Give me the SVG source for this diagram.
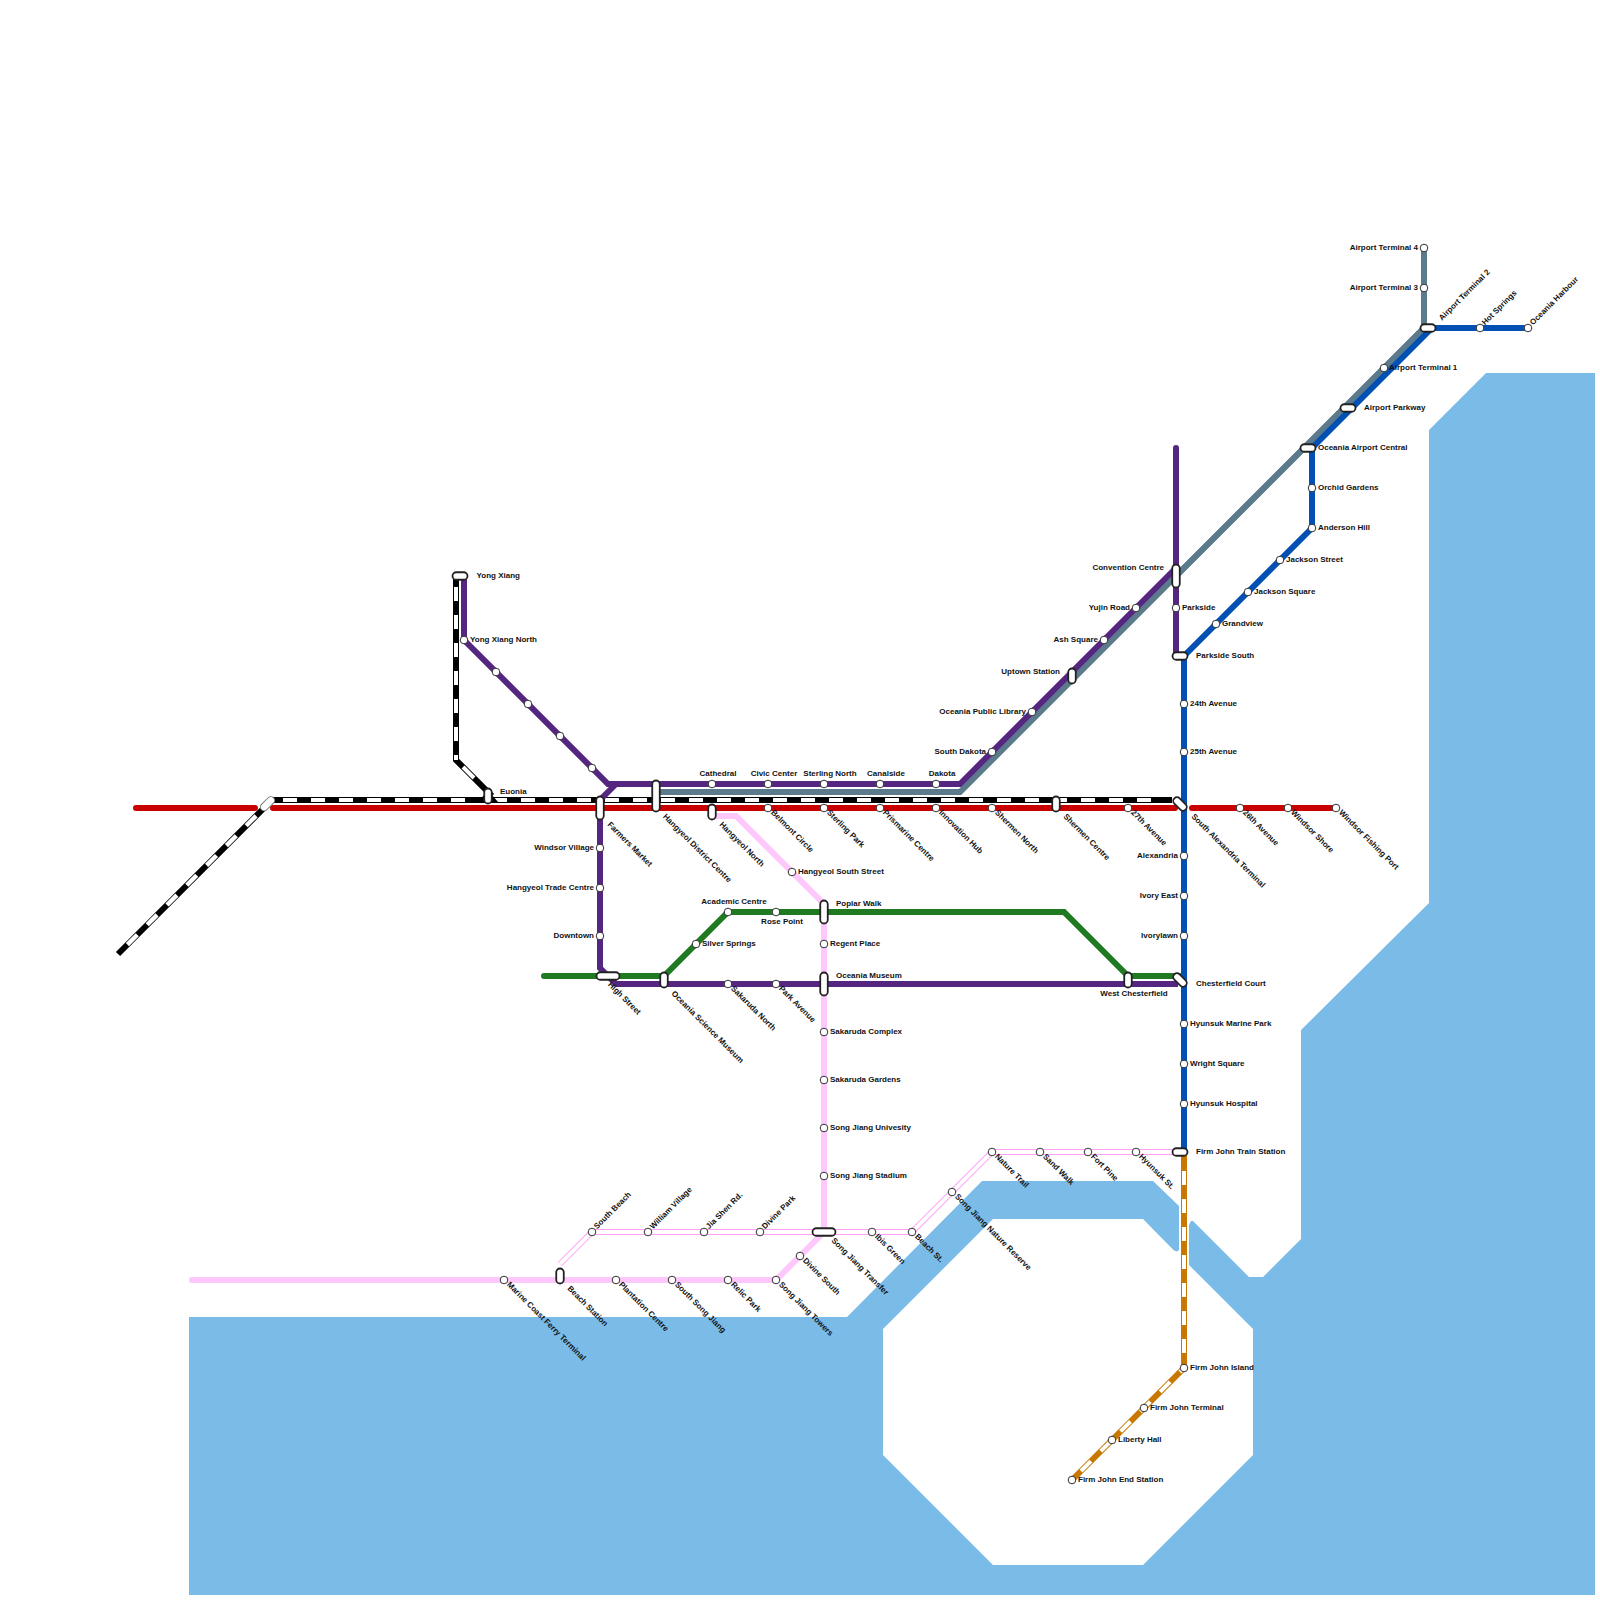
<svg xmlns="http://www.w3.org/2000/svg" width="1600" height="1600" viewBox="0 0 1600 1600">
<style>
text{font-family:"Liberation Sans",Arial,sans-serif;font-size:8px;font-weight:bold;fill:#111}
.e{text-anchor:end}.m{text-anchor:middle}
.st{fill:#fff;stroke:#333;stroke-width:1}
.pl{fill:#fff;stroke:#222;stroke-width:1.800}
.ln{fill:none;stroke-width:6;stroke-linejoin:miter}
.rd{stroke-linecap:round}
.wd{fill:none;stroke:#fff;stroke-width:4;stroke-dasharray:14 14}
.wt{fill:none;stroke:#fff;stroke-width:4}
</style>
<defs>
<circle id="s" class="st" r="3.800"/>
<rect id="v16" class="pl" x="-3.750" y="-7.500" width="7.500" height="15" rx="3.750"/>
<rect id="v24" class="pl" x="-3.750" y="-11.500" width="7.500" height="23" rx="3.750"/>
<rect id="v32" class="pl" x="-3.750" y="-15.500" width="7.500" height="31" rx="3.750"/>
<rect id="h16" class="pl" x="-7.500" y="-3.750" width="15" height="7.500" rx="3.750"/>
<rect id="h24" class="pl" x="-11.500" y="-3.750" width="23" height="7.500" rx="3.750"/>
</defs>
<path id="water" fill="#7abbe8" d="M189,1317H847L982,1181H1153L1179,1206V1250L1177,1251.500L1174,1250.500L1143,1219H993L883,1329V1455L993,1565H1143L1253,1455V1329L1189,1265V1225L1191,1221H1193L1249,1277H1263L1301,1239V1030L1429,903V430L1486,373H1595V1595H189Z"/>
<g id="connectors">
<path class="ln" stroke="#5b7b8c" d="M656,792H960L1424,328V248"/>
<path class="ln rd" stroke="#c80000" d="M136,808H255M273,808H1175M1192,808H1336"/>
<path class="ln" stroke="#000" d="M118,954L272,800H1172"/>
<path class="wd" d="M283,800H479M493,800H1165"/>
<path class="wd" style="stroke-width:4.400" d="M127.400,944.600L262,810"/>
<path class="ln" stroke="#000" d="M456,576V760L492,796"/>
<path class="wd" d="M456,587V760"/>
<path class="wt" d="M463,767L474,778"/>
<path fill="#000" d="M477,803L485,794H491L499,803Z"/>
<path class="ln" stroke="#1f7a22" d="M1180,976H1128L1064,912H728L664,976H544" stroke-linecap="round"/>
<path class="ln" stroke="#ffc8fc" d="M712,816H736L824,904V1232L776,1280H192" stroke-linecap="round"/>
<path class="ln" stroke="#ff9ff8" d="M560,1264L592,1232H912L992,1152H1180"/>
<path class="wt" d="M560,1264L592,1232H912L992,1152H1180"/>
<path class="ln" stroke="#c87800" d="M1184,1152V1368L1072,1480"/>
<path class="wd" d="M1184,1171V1353"/>
<path class="wd" stroke-dashoffset="8.340" d="M1184,1368L1072,1480"/>
<path class="ln" stroke="#5b7b8c" d="M1176,576L1424,328"/>
<path class="ln" stroke="#0350b4" d="M1528,328H1432L1312,448V528L1184,656V1152"/>
<path class="ln rd" stroke="#55267f" d="M1176,448V656"/>
<path class="ln" stroke="#55267f" d="M464,576V640L608,784H960L1176,568"/>
<path class="ln" stroke="#55267f" d="M616,784L600,800V968L616,984H1178"/>
</g>
<g id="n-junction"><rect x="259" y="800" width="17" height="7.500" rx="3.750" transform="rotate(-45 267.500 803.750)" fill="#fff" stroke="#777" stroke-width="1"/></g>
<g id="yong-xiang"><use href="#h16" x="460" y="576"/><text x="476.500" y="578">Yong Xiang</text></g>
<g id="yong-xiang-north"><use href="#s" x="464" y="640"/><text x="470" y="642">Yong Xiang North</text></g>
<g id="p1"><use href="#s" x="496" y="672"/></g>
<g id="p2"><use href="#s" x="528" y="704"/></g>
<g id="p3"><use href="#s" x="560" y="736"/></g>
<g id="p4"><use href="#s" x="592" y="768"/></g>
<g id="euonia"><use href="#v16" x="488" y="796"/><text x="500" y="794">Euonia</text></g>
<g id="farmers-market"><use href="#v24" x="600" y="808"/><text transform="translate(607 825) rotate(45)">Farmers Market</text></g>
<g id="hangyeol-district-centre"><use href="#v32" x="656" y="796"/><text transform="translate(662.500 817) rotate(45)">Hangyeol District Centre</text></g>
<g id="hangyeol-north"><use href="#v16" x="712" y="812"/><text transform="translate(719 825) rotate(45)">Hangyeol North</text></g>
<g id="cathedral"><use href="#s" x="712" y="784"/><text class="m" x="718" y="776">Cathedral</text></g>
<g id="civic-center"><use href="#s" x="768" y="784"/><text class="m" x="774" y="776">Civic Center</text></g>
<g id="sterling-north"><use href="#s" x="824" y="784"/><text class="m" x="830" y="776">Sterling North</text></g>
<g id="canalside"><use href="#s" x="880" y="784"/><text class="m" x="886" y="776">Canalside</text></g>
<g id="dakota"><use href="#s" x="936" y="784"/><text class="m" x="942" y="776">Dakota</text></g>
<g id="belmont-circle"><use href="#s" x="768" y="808"/><text transform="translate(770.500 813) rotate(45)">Belmont Circle</text></g>
<g id="sterling-park"><use href="#s" x="824" y="808"/><text transform="translate(826.500 813) rotate(45)">Sterling Park</text></g>
<g id="prismarine-centre"><use href="#s" x="880" y="808"/><text transform="translate(882.500 813) rotate(45)">Prismarine Centre</text></g>
<g id="innovation-hub"><use href="#s" x="936" y="808"/><text transform="translate(938.500 813) rotate(45)">Innovation Hub</text></g>
<g id="shermen-north"><use href="#s" x="992" y="808"/><text transform="translate(994.500 813) rotate(45)">Shermen North</text></g>
<g id="shermen-centre"><use href="#v16" x="1056" y="804"/><text transform="translate(1063 817) rotate(45)">Shermen Centre</text></g>
<g id="a27"><use href="#s" x="1128" y="808"/><text transform="translate(1130.500 813) rotate(45)">27th Avenue</text></g>
<g id="south-alexandria"><rect class="pl" x="1172" y="800.250" width="16" height="7.500" rx="3.750" transform="rotate(45 1180 804)"/><text transform="translate(1191 817) rotate(45)">South Alexandria Terminal</text></g>
<g id="a26"><use href="#s" x="1240" y="808"/><text transform="translate(1242.500 813) rotate(45)">26th Avenue</text></g>
<g id="windsor-shore"><use href="#s" x="1288" y="808"/><text transform="translate(1290.500 813) rotate(45)">Windsor Shore</text></g>
<g id="windsor-fishing"><use href="#s" x="1336" y="808"/><text transform="translate(1338.500 813) rotate(45)">Windsor Fishing Port</text></g>
<g id="windsor-village"><use href="#s" x="600" y="848"/><text class="e" x="594" y="850">Windsor Village</text></g>
<g id="trade-centre"><use href="#s" x="600" y="888"/><text class="e" x="594" y="890">Hangyeol Trade Centre</text></g>
<g id="downtown"><use href="#s" x="600" y="936"/><text class="e" x="594" y="938">Downtown</text></g>
<g id="high-street"><use href="#h24" x="608" y="976"/><text transform="translate(607.500 985) rotate(45)">High Street</text></g>
<g id="oceania-science"><use href="#v16" x="664" y="980"/><text transform="translate(671 994) rotate(45)">Oceania Science Museum</text></g>
<g id="sakaruda-north"><use href="#s" x="728" y="984"/><text transform="translate(730.500 989) rotate(45)">Sakaruda North</text></g>
<g id="park-avenue"><use href="#s" x="776" y="984"/><text transform="translate(778.500 989) rotate(45)">Park Avenue</text></g>
<g id="oceania-museum"><use href="#v24" x="824" y="984"/><text x="836" y="978">Oceania Museum</text></g>
<g id="silver-springs"><use href="#s" x="696" y="944"/><text x="702" y="946">Silver Springs</text></g>
<g id="academic"><use href="#s" x="728" y="912"/><text class="m" x="734" y="904">Academic Centre</text></g>
<g id="rose-point"><use href="#s" x="776" y="912"/><text class="m" x="782" y="924">Rose Point</text></g>
<g id="poplar-walk"><use href="#v24" x="824" y="912"/><text x="836" y="906">Poplar Walk</text></g>
<g id="west-chesterfield"><use href="#v16" x="1128" y="980"/><text class="m" x="1134" y="996">West Chesterfield</text></g>
<g id="chesterfield-court"><rect class="pl" x="1172" y="976.250" width="16" height="7.500" rx="3.750" transform="rotate(45 1180 980)"/><text x="1196" y="986">Chesterfield Court</text></g>
<g id="hangyeol-south"><use href="#s" x="792" y="872"/><text x="798" y="874">Hangyeol South Street</text></g>
<g id="regent"><use href="#s" x="824" y="944"/><text x="830" y="946">Regent Place</text></g>
<g id="sak-complex"><use href="#s" x="824" y="1032"/><text x="830" y="1034">Sakaruda Complex</text></g>
<g id="sak-gardens"><use href="#s" x="824" y="1080"/><text x="830" y="1082">Sakaruda Gardens</text></g>
<g id="sj-univ"><use href="#s" x="824" y="1128"/><text x="830" y="1130">Song Jiang Univesity</text></g>
<g id="sj-stadium"><use href="#s" x="824" y="1176"/><text x="830" y="1178">Song Jiang Stadium</text></g>
<g id="sj-transfer"><use href="#h24" x="824" y="1232"/><text transform="translate(831 1241) rotate(45)">Song Jiang Transfer</text></g>
<g id="divine-south"><use href="#s" x="800" y="1256"/><text transform="translate(802.500 1261) rotate(45)">Divine South</text></g>
<g id="sj-towers"><use href="#s" x="776" y="1280"/><text transform="translate(778.500 1285) rotate(45)">Song Jiang Towers</text></g>
<g id="relic-park"><use href="#s" x="728" y="1280"/><text transform="translate(730.500 1285) rotate(45)">Relic Park</text></g>
<g id="south-song-jiang"><use href="#s" x="672" y="1280"/><text transform="translate(674.500 1285) rotate(45)">South Song Jiang</text></g>
<g id="plantation"><use href="#s" x="616" y="1280"/><text transform="translate(618.500 1285) rotate(45)">Plantation Centre</text></g>
<g id="beach-station"><use href="#v16" x="560" y="1276"/><text transform="translate(567 1289) rotate(45)">Beach Station</text></g>
<g id="marine-coast"><use href="#s" x="504" y="1280"/><text transform="translate(506.500 1285) rotate(45)">Marine Coast Ferry Terminal</text></g>
<g id="south-beach"><use href="#s" x="592" y="1232"/><text transform="translate(597 1229.500) rotate(-45)">South Beach</text></g>
<g id="william-village"><use href="#s" x="648" y="1232"/><text transform="translate(653 1229.500) rotate(-45)">William Village</text></g>
<g id="jia-shen"><use href="#s" x="704" y="1232"/><text transform="translate(709 1229.500) rotate(-45)">Jia Shen Rd.</text></g>
<g id="divine-park"><use href="#s" x="760" y="1232"/><text transform="translate(765 1229.500) rotate(-45)">Divine Park</text></g>
<g id="ibis-green"><use href="#s" x="872" y="1232"/><text transform="translate(874.500 1237) rotate(45)">Ibis Green</text></g>
<g id="beach-st"><use href="#s" x="912" y="1232"/><text transform="translate(914.500 1237) rotate(45)">Beach St.</text></g>
<g id="nature-reserve"><use href="#s" x="952" y="1192"/><text transform="translate(954.500 1197) rotate(45)">Song Jiang Nature Reserve</text></g>
<g id="nature-trail"><use href="#s" x="992" y="1152"/><text transform="translate(994.500 1157) rotate(45)">Nature Trail</text></g>
<g id="sand-walk"><use href="#s" x="1040" y="1152"/><text transform="translate(1042.500 1157) rotate(45)">Sand Walk</text></g>
<g id="fort-pine"><use href="#s" x="1088" y="1152"/><text transform="translate(1090.500 1157) rotate(45)">Fort Pine</text></g>
<g id="hyunsuk-st"><use href="#s" x="1136" y="1152"/><text transform="translate(1138.500 1157) rotate(45)">Hyunsuk St.</text></g>
<g id="firm-john-train"><use href="#h16" x="1180" y="1152"/><text x="1196" y="1154">Firm John Train Station</text></g>
<g id="firm-john-island"><use href="#s" x="1184" y="1368"/><text x="1190" y="1370">Firm John Island</text></g>
<g id="firm-john-terminal"><use href="#s" x="1144" y="1408"/><text x="1150" y="1410">Firm John Terminal</text></g>
<g id="liberty-hall"><use href="#s" x="1112" y="1440"/><text x="1118" y="1442">Liberty Hall</text></g>
<g id="firm-john-end"><use href="#s" x="1072" y="1480"/><text x="1078" y="1482">Firm John End Station</text></g>
<g id="hyunsuk-hospital"><use href="#s" x="1184" y="1104"/><text x="1190" y="1106">Hyunsuk Hospital</text></g>
<g id="wright-square"><use href="#s" x="1184" y="1064"/><text x="1190" y="1066">Wright Square</text></g>
<g id="hyunsuk-marine"><use href="#s" x="1184" y="1024"/><text x="1190" y="1026">Hyunsuk Marine Park</text></g>
<g id="ivorylawn"><use href="#s" x="1184" y="936"/><text class="e" x="1178" y="938">Ivorylawn</text></g>
<g id="ivory-east"><use href="#s" x="1184" y="896"/><text class="e" x="1178" y="898">Ivory East</text></g>
<g id="alexandria"><use href="#s" x="1184" y="856"/><text class="e" x="1178" y="858">Alexandria</text></g>
<g id="a25"><use href="#s" x="1184" y="752"/><text x="1190" y="754">25th Avenue</text></g>
<g id="a24"><use href="#s" x="1184" y="704"/><text x="1190" y="706">24th Avenue</text></g>
<g id="parkside-south"><use href="#h16" x="1180" y="656"/><text x="1196" y="658">Parkside South</text></g>
<g id="parkside"><use href="#s" x="1176" y="608"/><text x="1182" y="610">Parkside</text></g>
<g id="convention"><use href="#v24" x="1176" y="576"/><text class="e" x="1164" y="570">Convention Centre</text></g>
<g id="yujin"><use href="#s" x="1136" y="608"/><text class="e" x="1130" y="610">Yujin Road</text></g>
<g id="ash"><use href="#s" x="1104" y="640"/><text class="e" x="1098" y="642">Ash Square</text></g>
<g id="uptown"><use href="#v16" x="1072" y="676"/><text class="e" x="1060" y="674">Uptown Station</text></g>
<g id="library"><use href="#s" x="1032" y="712"/><text class="e" x="1026" y="714">Oceania Public Library</text></g>
<g id="south-dakota"><use href="#s" x="992" y="752"/><text class="e" x="986" y="754">South Dakota</text></g>
<g id="grandview"><use href="#s" x="1216" y="624"/><text x="1222" y="626">Grandview</text></g>
<g id="jackson-square"><use href="#s" x="1248" y="592"/><text x="1254" y="594">Jackson Square</text></g>
<g id="jackson-street"><use href="#s" x="1280" y="560"/><text x="1286" y="562">Jackson Street</text></g>
<g id="anderson"><use href="#s" x="1312" y="528"/><text x="1318" y="530">Anderson Hill</text></g>
<g id="orchid"><use href="#s" x="1312" y="488"/><text x="1318" y="490">Orchid Gardens</text></g>
<g id="oac"><use href="#h16" x="1308" y="448"/><text x="1318" y="450">Oceania Airport Central</text></g>
<g id="airport-parkway"><use href="#h16" x="1348" y="408"/><text x="1364" y="410">Airport Parkway</text></g>
<g id="t1"><use href="#s" x="1384" y="368"/><text x="1389" y="370">Airport Terminal 1</text></g>
<g id="t2"><use href="#h16" x="1428" y="328"/><text transform="translate(1442 321) rotate(-45)">Airport Terminal 2</text></g>
<g id="t3"><use href="#s" x="1424" y="288"/><text class="e" x="1418" y="290">Airport Terminal 3</text></g>
<g id="t4"><use href="#s" x="1424" y="248"/><text class="e" x="1418" y="250">Airport Terminal 4</text></g>
<g id="hot-springs"><use href="#s" x="1480" y="328"/><text transform="translate(1485 325.500) rotate(-45)">Hot Springs</text></g>
<g id="oceania-harbour"><use href="#s" x="1528" y="328"/><text transform="translate(1533 325.500) rotate(-45)">Oceania Harbour</text></g>
</svg>
